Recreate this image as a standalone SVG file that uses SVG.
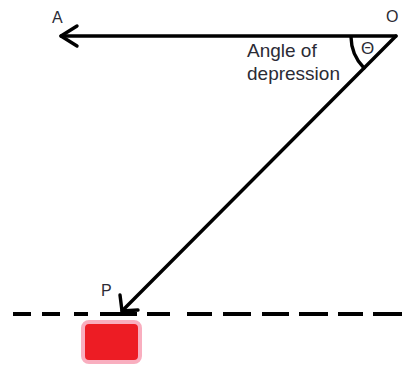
<svg xmlns="http://www.w3.org/2000/svg" width="402" height="369" viewBox="0 0 402 369">
<style>
.ln{stroke:#000;stroke-width:3.4;fill:none;stroke-linecap:round;stroke-linejoin:round}
.dash{stroke:#000;stroke-width:4;fill:none}
.lbl{font-family:"Liberation Sans",Arial,sans-serif;fill:#2b2b35}
</style>
<rect width="402" height="369" fill="#fff"/>
<g id="connectors">
  <line class="ln" x1="396" y1="36" x2="61" y2="36"/>
  <polyline class="ln" points="77,26 61,36 77,46"/>
  <line class="ln" x1="396" y1="36" x2="122" y2="311"/>
  <polyline class="ln" points="120,295 122,311 138,310"/>
  <path class="ln" d="M351,37 A45,45 0 0 0 364,68"/>
</g>
<g id="ground">
  <path class="dash" d="M13,314H31M42,314H60M74,314H88M100,314H137M147,314H170M187,314H212M223,314H251M262,314H289M299,314H328M338,314H363M373,314H402"/>
</g>
<g id="node-A"><text class="lbl" x="52" y="23" font-size="16">A</text></g>
<g id="node-O"><text class="lbl" x="386" y="22" font-size="16">O</text></g>
<g id="node-P"><text class="lbl" x="101" y="296" font-size="16">P</text></g>
<g id="angle-label">
  <text class="lbl" x="247" y="57" font-size="19">Angle of</text>
  <text class="lbl" x="247" y="80" font-size="19">depression</text>
  <text class="lbl" x="361" y="54" font-size="17">Θ</text>
</g>
<g id="object">
  <rect x="83" y="322" width="57" height="40" rx="6" fill="#ed1c24" stroke="#f9aebf" stroke-width="4"/>
</g>
</svg>
